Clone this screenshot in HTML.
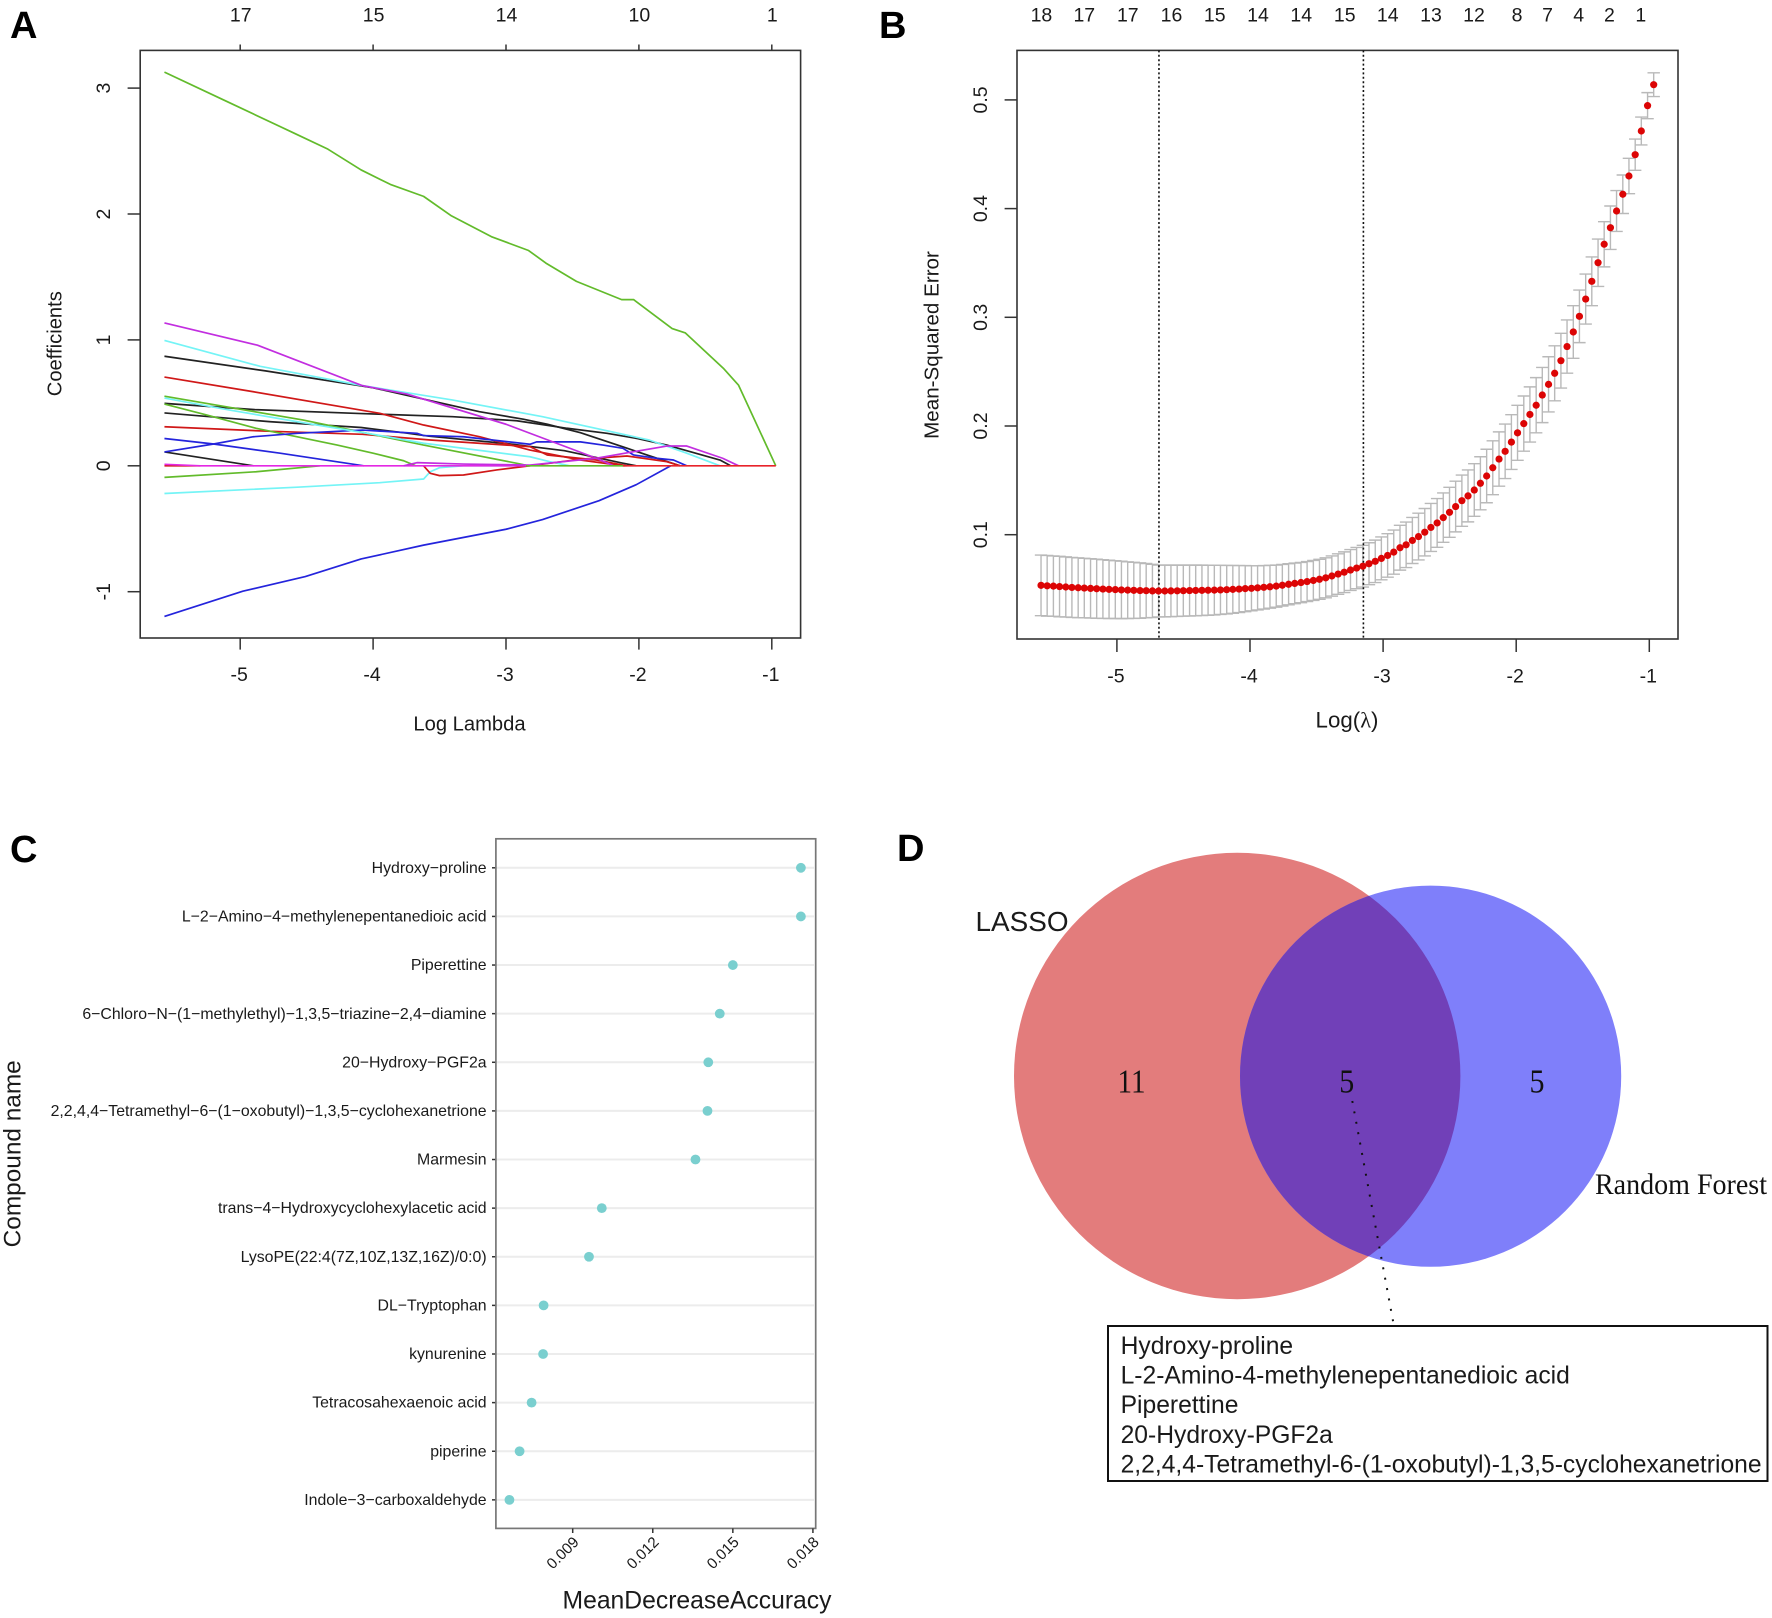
<!DOCTYPE html>
<html lang="en">
<head>
<meta charset="utf-8">
<title>LASSO and random forest feature selection</title>
<style>
html,body{margin:0;padding:0;background:#fff;}
body{width:1772px;height:1618px;overflow:hidden;}
svg{display:block;position:absolute;left:0;top:0;font-family:"Liberation Sans",Arial,sans-serif;}
text{fill:#1a1a1a;}
.panel-letter{font-weight:bold;font-size:38px;fill:#000;}
.serif{font-family:"Liberation Serif","Times New Roman",serif;fill:#111;}
</style>
</head>
<body>
<svg id="fig" xmlns="http://www.w3.org/2000/svg" width="1772" height="1618" viewBox="0 0 1772 1618">
  <text class="panel-letter" x="10" y="38">A</text>
  <text class="panel-letter" x="879" y="38">B</text>
  <text class="panel-letter" x="10" y="862">C</text>
  <text class="panel-letter" x="897" y="861">D</text>

  <g id="panelA"></g>
  <g id="panelB"></g>
  <g id="panelC"></g>

  <g id="panelD">
    <defs>
      <clipPath id="redClip"><circle cx="1237.2" cy="1076" r="223.2"></circle></clipPath>
    </defs>
    <circle cx="1237.2" cy="1076" r="223.2" fill="#e37c7c"></circle>
    <circle cx="1430.6" cy="1076.2" r="190.6" fill="#7f7ffa"></circle>
    <circle cx="1430.6" cy="1076.2" r="190.6" fill="#7140b8" clip-path="url(#redClip)"></circle>
    <text x="975.5" y="931" font-size="27.9">LASSO</text>
    <text class="serif" x="1117.5" y="1092.5" font-size="34" textLength="28" lengthAdjust="spacingAndGlyphs">11</text>
    <text class="serif" x="1339.2" y="1092.5" font-size="34" textLength="15" lengthAdjust="spacingAndGlyphs">5</text>
    <text class="serif" x="1529.5" y="1092.5" font-size="34" textLength="15" lengthAdjust="spacingAndGlyphs">5</text>
    <text class="serif" x="1595" y="1194" font-size="30" textLength="172" lengthAdjust="spacingAndGlyphs">Random Forest</text>
    <line x1="1352.3" y1="1101" x2="1393.2" y2="1322" stroke="#111" stroke-width="2" stroke-dasharray="2 8.57"></line>
    <rect x="1108" y="1326" width="659.5" height="155" fill="#fff" stroke="#111" stroke-width="2"></rect>
    <text x="1120.6" y="1354" font-size="24.65">Hydroxy-proline</text>
    <text x="1120.6" y="1383.5" font-size="24.65">L-2-Amino-4-methylenepentanedioic acid</text>
    <text x="1120.6" y="1413" font-size="24.65">Piperettine</text>
    <text x="1120.6" y="1442.8" font-size="24.65">20-Hydroxy-PGF2a</text>
    <text x="1120.6" y="1472.5" font-size="24.65">2,2,4,4-Tetramethyl-6-(1-oxobutyl)-1,3,5-cyclohexanetrione</text>
  </g>
</svg>

<script>
/* ---------- Panel A data: [log lambda, coefficient] pairs ---------- */
const pathTicks = [-5, -4, -3, -2, -1];
const pathTopLabels = ["17", "15", "14", "10", "1"];
const pathCoefTicks = [-1, 0, 1, 2, 3];
const zeroRedLeft = [[-5.57,0],[-5.3,0]];
const zeroMagentaLeft = [[-5.57,0.012],[-5.3,0],[-2.82,0]];
const zeroGreenMid = [[-2.85,0],[-2.1,0]];
const zeroRedRight = [[-2.12,0],[-0.97,0]];
const greenMain = [[-5.57,3.127],[-5.105,2.896],[-4.59,2.64],[-4.34,2.515],[-4.09,2.35],[-3.87,2.235],[-3.62,2.14],[-3.41,1.985],[-3.11,1.82],[-2.83,1.71],[-2.7,1.61],[-2.47,1.465],[-2.13,1.32],[-2.04,1.32],[-1.75,1.09],[-1.65,1.055],[-1.365,0.775],[-1.25,0.64],[-0.97,0]];
const blueMain = [[-5.57,-1.196],[-4.98,-0.996],[-4.51,-0.88],[-4.09,-0.74],[-3.62,-0.63],[-3,-0.504],[-2.725,-0.427],[-2.3,-0.277],[-2.02,-0.15],[-1.76,0]];
const magentaUpper = [[-5.57,1.135],[-4.87,0.958],[-4.085,0.638],[-3.745,0.57],[-3,0.33],[-2.32,0.06],[-2.19,0]];
const cyanUpper = [[-5.57,0.996],[-4.85,0.79],[-4.085,0.638],[-3.405,0.523],[-2.725,0.39],[-1.92,0.204],[-1.64,0.1],[-1.39,0]];
const blackUpper = [[-5.57,0.87],[-4.81,0.754],[-4,0.62],[-3.2,0.43],[-2.87,0.37],[-2.69,0.33],[-2.44,0.263],[-2.09,0.14],[-1.94,0.086],[-1.69,0]];
const blackFlat = [[-5.57,0.496],[-4.89,0.446],[-4.09,0.415],[-3.4,0.39],[-2.92,0.358],[-2.54,0.298],[-2.24,0.258],[-2.02,0.218],[-1.79,0.165],[-1.39,0.046],[-1.31,0]];
const blackMiddle = [[-5.57,0.42],[-4.77,0.35],[-4.09,0.304],[-3.75,0.26],[-3.58,0.235],[-3,0.177],[-2.56,0.12],[-2.13,0.023],[-2.02,0]];
const blackSmall = [[-5.57,0.11],[-4.9,0]];
const redUpper = [[-5.57,0.705],[-4.9,0.588],[-3.95,0.417],[-3.62,0.324],[-3.2,0.231],[-2.82,0.125],[-2.44,0.046],[-2.12,0]];
const redLower = [[-5.57,0.31],[-4.82,0.276],[-4.08,0.25],[-3.57,0.205],[-2.82,0.152],[-2.69,0.086],[-2.32,0.046],[-2.09,0]];
const redNegative = [[-3.62,0],[-3.57,-0.06],[-3.5,-0.078],[-3.32,-0.073],[-3.07,-0.033],[-2.82,0],[-2.44,0.052],[-2.09,0.078],[-1.79,0.033],[-1.69,0]];
const greenUpper = [[-5.57,0.553],[-4.53,0.364],[-3.62,0.165],[-2.89,0.014],[-2.83,0]];
const greenLower = [[-5.57,0.49],[-5.25,0.403],[-4.88,0.298],[-4.27,0.165],[-4,0.1],[-3.77,0.04],[-3.68,0]];
const greenNegative = [[-5.57,-0.092],[-4.88,-0.047],[-4.4,0]];
const cyanMiddle = [[-5.57,0.538],[-5.08,0.443],[-4.57,0.35],[-3.97,0.245],[-3.62,0.179],[-2.82,0.072],[-2.67,0.033],[-2.52,0]];
const cyanNegative = [[-5.57,-0.22],[-4.57,-0.17],[-3.95,-0.134],[-3.62,-0.105],[-3.57,-0.047],[-3.5,-0.015],[-3.32,0],[-2.9,0]];
const blueLower = [[-5.57,0.217],[-5.2,0.173],[-4.7,0.1],[-4.07,0]];
const blueRising = [[-5.57,0.11],[-5.2,0.173],[-4.9,0.231],[-4.57,0.258],[-4.08,0.284],[-3.67,0.258],[-3.62,0.24],[-3.32,0.231],[-2.82,0.171],[-2.77,0.19],[-2.44,0.19],[-2.27,0.165],[-2.12,0.139],[-2.04,0.086],[-1.87,0.06],[-1.74,0.046],[-1.64,0]];
const magentaRising = [[-3.77,0],[-3.67,0.025],[-3.32,0.014],[-2.82,0.006],[-2.32,0.06],[-2.04,0.112],[-1.79,0.157],[-1.64,0.157],[-1.37,0.06],[-1.25,0]];

/* ---------- Panel B data ---------- */
const cvTicks = [-5, -4, -3, -2, -1];
const cvMseTicks = [0.1, 0.2, 0.3, 0.4, 0.5];
const cvTopLabels = ["18","17","17","16","15","14","14","15","14","13","12","8","7","4","2","1"];
const cvTopLogLambda = [-5.567,-5.245,-4.918,-4.59,-4.265,-3.94,-3.615,-3.288,-2.965,-2.64,-2.317,-1.994,-1.764,-1.531,-1.3,-1.064];
const cvLambdaMarkers = [-4.684, -3.148];
const cvLogLambda = [-5.570,-5.524,-5.477,-5.431,-5.384,-5.338,-5.291,-5.245,-5.198,-5.152,-5.105,-5.059,-5.012,-4.966,-4.919,-4.873,-4.826,-4.780,-4.733,-4.687,-4.640,-4.594,-4.547,-4.501,-4.454,-4.408,-4.361,-4.315,-4.268,-4.222,-4.175,-4.129,-4.082,-4.036,-3.989,-3.943,-3.896,-3.850,-3.803,-3.757,-3.710,-3.664,-3.617,-3.571,-3.524,-3.478,-3.431,-3.385,-3.338,-3.292,-3.245,-3.199,-3.152,-3.106,-3.059,-3.013,-2.966,-2.920,-2.873,-2.827,-2.780,-2.734,-2.687,-2.641,-2.594,-2.548,-2.501,-2.455,-2.408,-2.362,-2.315,-2.269,-2.222,-2.176,-2.129,-2.083,-2.036,-1.990,-1.943,-1.897,-1.850,-1.804,-1.757,-1.711,-1.664,-1.618,-1.571,-1.525,-1.478,-1.432,-1.385,-1.339,-1.292,-1.246,-1.199,-1.153,-1.106,-1.060,-1.013,-0.967];
const cvMean = [.0534,.0530,.0527,.0523,.0519,.0515,.0512,.0509,.0506,.0503,.0500,.0497,.0495,.0492,.0490,.0488,.0486,.0485,.0483,.0482,.0482,.0483,.0484,.0485,.0486,.0487,.0488,.0489,.0490,.0492,.0494,.0497,.0500,.0504,.0507,.0511,.0516,.0521,.0527,.0535,.0544,.0552,.0560,.0569,.0579,.0590,.0603,.0620,.0638,.0655,.0675,.0693,.0710,.0733,.0755,.0782,.0809,.0840,.0880,.0907,.0947,.0983,.1023,.1067,.1108,.1157,.1206,.1259,.1313,.1357,.1411,.1473,.1540,.1616,.1696,.1767,.1852,.1937,.2022,.2106,.2191,.2285,.2383,.2485,.2601,.2731,.2865,.3009,.3168,.3331,.3502,.3672,.3824,.3978,.4132,.4300,.4496,.4714,.4947,.5140];
const cvStdErr = [.0279,.0279,.0278,.0278,.0277,.0276,.0275,.0274,.0273,.0272,.0270,.0268,.0266,.0264,.0261,.0258,.0255,.0250,.0245,.0239,.0238,.0237,.0236,.0235,.0234,.0233,.0232,.0230,.0228,.0226,.0223,.0220,.0216,.0212,.0207,.0203,.0200,.0197,.0194,.0191,.0189,.0187,.0185,.0184,.0184,.0184,.0184,.0185,.0186,.0187,.0188,.0190,.0192,.0193,.0195,.0197,.0200,.0203,.0206,.0209,.0212,.0215,.0218,.0221,.0224,.0227,.0230,.0233,.0236,.0239,.0242,.0244,.0246,.0248,.0250,.0251,.0252,.0253,.0254,.0254,.0254,.0254,.0254,.0253,.0252,.0245,.0242,.0242,.0230,.0224,.0218,.0208,.0200,.0188,.0177,.0163,.0144,.0128,.0120,.0109];

/* ---------- Panel C data ---------- */
const compoundNames = ["Hydroxy\u2212proline","L\u22122\u2212Amino\u22124\u2212methylenepentanedioic acid","Piperettine","6\u2212Chloro\u2212N\u2212(1\u2212methylethyl)\u22121,3,5\u2212triazine\u22122,4\u2212diamine","20\u2212Hydroxy\u2212PGF2a","2,2,4,4\u2212Tetramethyl\u22126\u2212(1\u2212oxobutyl)\u22121,3,5\u2212cyclohexanetrione","Marmesin","trans\u22124\u2212Hydroxycyclohexylacetic acid","LysoPE(22:4(7Z,10Z,13Z,16Z)/0:0)","DL\u2212Tryptophan","kynurenine","Tetracosahexaenoic acid","piperine","Indole\u22123\u2212carboxaldehyde"];
const meanDecreaseAccuracy = [.01755,.01755,.0150,.01451,.01408,.01405,.0136,.01009,.00961,.00791,.00789,.00746,.00701,.00663];
const accuracyTicks = [0.009, 0.012, 0.015, 0.018];
const accuracyTickLabels = ["0.009", "0.012", "0.015", "0.018"];

/* ---------- helpers ---------- */
const NS = "http://www.w3.org/2000/svg";
function mk(tag, attrs, parent, txt) {
  const el = document.createElementNS(NS, tag);
  for (const k in attrs) el.setAttribute(k, attrs[k]);
  if (txt !== undefined) el.textContent = txt;
  parent.appendChild(el);
  return el;
}
const AXC = "#333";

/* ---------- Panel A ---------- */
const gA = document.getElementById("panelA");
const ax = v => 771.8 + (v + 1) * 132.9;
const ay = v => 465.8 - v * 125.9;
{
  const box = mk("rect", {x:140.2,y:50.4,width:660.4,height:587.6,fill:"#fff",stroke:AXC,"stroke-width":1.6}, gA);
  
  
  const seriesList = [
    [zeroRedLeft,"#d01818","zero-red-left"],[blackSmall,"#222","path-black-small"],[blackMiddle,"#222","path-black-middle"],
    [blackFlat,"#222","path-black-flat"],[blackUpper,"#222","path-black-upper"],[redLower,"#d01818","path-red-lower"],
    [redUpper,"#d01818","path-red-upper"],[greenNegative,"#62bb2b","path-green-negative"],[greenLower,"#62bb2b","path-green-lower"],
    [greenUpper,"#62bb2b","path-green-upper"],[greenMain,"#62bb2b","path-green-main"],[blueLower,"#2424dc","path-blue-lower"],
    [blueRising,"#2424dc","path-blue-rising"],[blueMain,"#2424dc","path-blue-main"],[cyanNegative,"#74f4f6","path-cyan-negative"],
    [cyanMiddle,"#74f4f6","path-cyan-middle"],[cyanUpper,"#74f4f6","path-cyan-upper"],[magentaUpper,"#c22ee0","path-magenta-upper"],
    [redNegative,"#d01818","path-red-negative"],[zeroMagentaLeft,"#e428e4","zero-magenta-left"],[magentaRising,"#c22ee0","path-magenta-rising"],
    [zeroGreenMid,"#62bb2b","zero-green-middle"],[zeroRedRight,"#e8232a","zero-red-right"]
  ];
  seriesList.forEach(s => {
    const pts = s[0].map(p => ax(p[0]).toFixed(2) + "," + ay(p[1]).toFixed(2)).join(" ");
    const line = mk("polyline", {points:pts,fill:"none",stroke:s[1],"stroke-width":1.7,"stroke-linejoin":"round"}, gA);
    
    
  });
  pathTicks.forEach((t, i) => {
    const b = mk("line", {x1:ax(t),x2:ax(t),y1:638,y2:649.6,stroke:AXC,"stroke-width":1.5}, gA);
    
    
    const lab = mk("text", {x:ax(t)-1,y:675,"font-size":19.5,"text-anchor":"middle","dominant-baseline":"central"}, gA, String(t));
    
    
    const top = mk("line", {x1:ax(t),x2:ax(t),y1:44.5,y2:50.4,stroke:AXC,"stroke-width":1.5}, gA);
    
    
    const tl = mk("text", {x:ax(t)+0.5,y:15.7,"font-size":19.5,"text-anchor":"middle","dominant-baseline":"central"}, gA, pathTopLabels[i]);
    
    
  });
  pathCoefTicks.forEach(t => {
    const m = mk("line", {x1:127.6,x2:140.2,y1:ay(t),y2:ay(t),stroke:AXC,"stroke-width":1.5}, gA);
    
    
    const lab = mk("text", {x:104,y:ay(t),"font-size":19.5,"text-anchor":"middle","dominant-baseline":"central",transform:"rotate(-90 104 "+ay(t)+")"}, gA, String(t));
    
    
  });
  const xt = mk("text", {x:469.5,y:724.7,"font-size":20.2,"text-anchor":"middle","dominant-baseline":"central"}, gA, "Log Lambda");
  
  
  const yt = mk("text", {x:55.4,y:343.7,"font-size":20.2,"text-anchor":"middle","dominant-baseline":"central",transform:"rotate(-90 55.4 343.7)"}, gA, "Coefficients");
  
  
}

/* ---------- Panel B ---------- */
const gB = document.getElementById("panelB");
const bx = v => 1649.3 + (v + 1) * 133.1;
const by = v => 534.7 - (v - 0.1) * 1087;
{
  const box = mk("rect", {x:1017,y:50.4,width:661,height:588.6,fill:"#fff",stroke:AXC,"stroke-width":1.6}, gB);
  
  
  cvLogLambda.forEach((l, i) => {
    const x = bx(l), up = by(cvMean[i] + cvStdErr[i]), lo = by(cvMean[i] - cvStdErr[i]);
    const d = "M"+x+" "+up+"V"+lo+"M"+(x-6.2)+" "+up+"H"+(x+6.2)+"M"+(x-6.2)+" "+lo+"H"+(x+6.2);
    const bar = mk("path", {d:d,fill:"none",stroke:"#b9b9b9","stroke-width":1.4}, gB);
    
    
  });
  cvLambdaMarkers.forEach(v => {
    const m = mk("line", {x1:bx(v),x2:bx(v),y1:50.4,y2:639,stroke:"#111","stroke-width":1.6,"stroke-dasharray":"2 2.4"}, gB);
    
    
  });
  cvLogLambda.forEach((l, i) => {
    const c = mk("circle", {cx:bx(l),cy:by(cvMean[i]),r:3.6,fill:"#dc0505"}, gB);
    
    
  });
  cvTicks.forEach(t => {
    const m = mk("line", {x1:bx(t),x2:bx(t),y1:639,y2:652,stroke:AXC,"stroke-width":1.5}, gB);
    
    
    const lab = mk("text", {x:bx(t)-1,y:676.7,"font-size":19.5,"text-anchor":"middle","dominant-baseline":"central"}, gB, String(t));
    
    
  });
  cvMseTicks.forEach(t => {
    const m = mk("line", {x1:1004.6,x2:1017,y1:by(t),y2:by(t),stroke:AXC,"stroke-width":1.5}, gB);
    
    
    const lab = mk("text", {x:981,y:by(t),"font-size":19.5,"text-anchor":"middle","dominant-baseline":"central",transform:"rotate(-90 981 "+by(t)+")"}, gB, t.toFixed(1));
    
    
  });
  cvTopLabels.forEach((s, i) => {
    const lab = mk("text", {x:bx(cvTopLogLambda[i]),y:15.7,"font-size":19.5,"text-anchor":"middle","dominant-baseline":"central"}, gB, s);
    
    
  });
  const xt = mk("text", {x:1347,y:719.5,"font-size":22.3,"text-anchor":"middle","dominant-baseline":"central"}, gB);
  
  
  mk("tspan", {}, xt, "Log(");
  mk("tspan", {"font-family":"'Liberation Serif',serif"}, xt, "\u03BB");
  mk("tspan", {}, xt, ")");
  const yt = mk("text", {x:932,y:345,"font-size":20.6,"text-anchor":"middle","dominant-baseline":"central",transform:"rotate(-90 932 345)"}, gB, "Mean-Squared Error");
  
  
}

/* ---------- Panel C ---------- */
const gC = document.getElementById("panelC");
const cx = v => 572.7 + (v - 0.009) * 26690;
const cy = i => 867.8 + i * 48.62;
{
  compoundNames.forEach((name, i) => {
    const g = mk("line", {x1:496.5,x2:814,y1:cy(i),y2:cy(i),stroke:"#ececec","stroke-width":2}, gC);
    
    
    const t = mk("line", {x1:492,x2:496,y1:cy(i),y2:cy(i),stroke:AXC,"stroke-width":1.5}, gC);
    
    
    const lab = mk("text", {x:486.6,y:cy(i)+0.6,"font-size":15.85,"text-anchor":"end","dominant-baseline":"central",fill:"#222"}, gC, name);
    
    
    const d = mk("circle", {cx:cx(meanDecreaseAccuracy[i]),cy:cy(i),r:4.9,fill:"#7acfcf"}, gC);
    
    
  });
  const box = mk("rect", {x:495.9,y:838.8,width:319.8,height:689.6,fill:"none",stroke:"#777","stroke-width":1.7}, gC);
  
  
  accuracyTicks.forEach((t, i) => {
    const m = mk("line", {x1:cx(t),x2:cx(t),y1:1528.4,y2:1533,stroke:AXC,"stroke-width":1.5}, gC);
    
    
    const px = cx(t) + 7, py = 1543;
    const lab = mk("text", {x:px,y:py,"font-size":15.2,"text-anchor":"end",fill:"#222",transform:"rotate(-45 "+px+" "+py+")"}, gC, accuracyTickLabels[i]);
    
    
  });
  const xt = mk("text", {x:697,y:1601,"font-size":24.7,"text-anchor":"middle","dominant-baseline":"central"}, gC, "MeanDecreaseAccuracy");
  
  
  const yt = mk("text", {x:13,y:1153.8,"font-size":24.4,"text-anchor":"middle","dominant-baseline":"central",transform:"rotate(-90 13 1153.8)"}, gC, "Compound name");
  
  
}
</script>
</body>
</html>
